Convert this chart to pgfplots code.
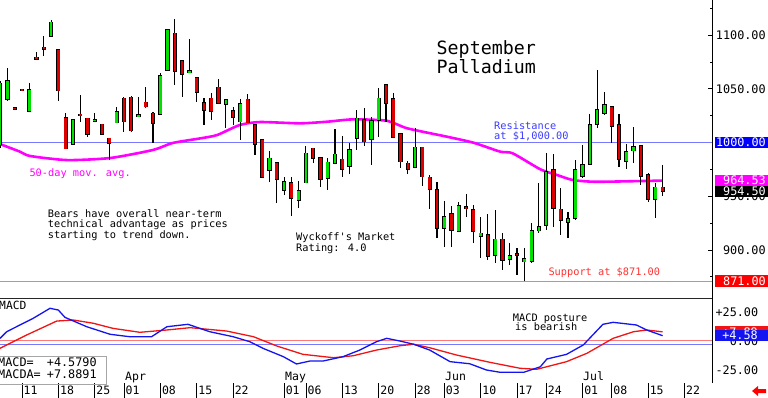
\documentclass[border=0pt]{standalone}
\usepackage{pgfplots}
\pgfplotsset{compat=1.18}
\usepackage{pgfplotstable}
\usepackage{fontspec}
\setmainfont{DejaVu Sans Mono}[Ligatures=TeXOff]
\definecolor{cgreen}{RGB}{0,225,0}
\definecolor{cred}{RGB}{222,0,0}
\definecolor{cmag}{RGB}{255,0,255}
\definecolor{cblue}{RGB}{0,0,255}
\definecolor{lblue}{RGB}{120,120,255}
\definecolor{lred}{RGB}{255,120,120}
\definecolor{tblue}{RGB}{60,60,255}
\definecolor{tred}{RGB}{255,50,50}
\definecolor{mblue}{RGB}{20,20,240}
\definecolor{mred}{RGB}{240,20,20}
\newcommand\fs[1]{\fontsize{#1}{#1}\selectfont}

\pgfplotstableread{
i o h l c
-3 998 1057 995 1055
-2 1040.4 1069.3 1038.6 1057.2
1 1029.5 1055 1029 1048.8
4 1099 1114 1098.5 1111.8
7 998.5 1021 998 1020.9
10 1020.5 1027.7 1020 1021
13 1018.4 1033.3 1018 1028.6
16 1024.5 1042 1024 1025
19 1026.5 1064.4 1026 1062.1
20 1067.4 1105 1067 1104.7
23 1065.5 1096 1065 1066
28 1035.5 1040 1013.2 1039.5
30 1019.3 1040.1 1002.3 1035.8
34 974.3 992 963.4 985.2
36 955.7 967.5 951 963.4
38 946.4 964.4 938.7 955.1
39 962.5 997 962 989.9
42 966.6 985.2 955.7 981.5
43 980.6 1012.5 980 988.9
45 978.3 999.8 970.3 992.9
46 1003.8 1030.2 993 1022.5
48 1002.9 1024 979 1020.2
49 1020.9 1050.4 1005.3 1041.1
54 976.8 1013.2 976 995.5
58 920.1 945.5 902.4 930.9
60 917.5 944.8 917 940.8
63 912.9 930.9 892.1 915.4
65 895.2 937.1 887.5 909.8
67 891.2 906.6 885.9 894.6
69 889 901.4 871 891.5
70 889.6 924.7 888 917.5
71 917.9 962.5 915.4 921.5
72 923.2 989.9 918.5 972.7
75 925.9 935.5 910.7 928.7
76 929.4 983.6 928 974.3
77 968.7 997.6 966.6 979
78 979.9 1026.2 979 1016.2
79 1017.2 1067.4 1013.2 1030.2
80 1027.1 1047.2 1026 1034.8
83 982.7 998.5 975 991.4
84 992.3 1014.1 980.6 996
87 947.1 962.5 929.4 958.2
}\upc

\pgfplotstableread{
i o h l c
-1 1032.2 1032.5 1031.3 1031.6
0 1049.1 1049.4 1048.3 1048.6
2 1079.3 1084.5 1077 1077.4
3 1088.6 1099 1080.5 1086.7
5 1086 1087 1038.6 1048.2
6 1023.2 1027.4 994 994.3
8 1025.7 1044.2 1019.3 1025.3
9 1022.5 1023 1005.3 1007.8
11 1016.9 1017.5 1007 1007.8
12 1003.8 1004.5 983.6 999.2
14 1041.1 1042 1010 1019.3
15 1042 1043 1010 1010.9
17 1037.4 1051.9 1031.8 1033.3
18 1027.1 1028.6 999.2 1017.8
21 1101.6 1114.6 1053.5 1066.5
22 1076.1 1077 1042 1063.4
24 1060.3 1061 1037.9 1046.7
25 1037 1041.1 1016.2 1030.2
26 1041.1 1045.7 1020.9 1029.5
27 1051.3 1058.8 1036 1036.4
29 1029.3 1033.3 1016.2 1023.4
31 1040.2 1044.8 1018 1018.4
32 1016.2 1017 988.3 998.3
33 1002.3 1003 967 967.5
35 981.1 982 943.9 966
37 962.5 968.1 931.5 948
40 994.5 995 981.1 985.2
41 985.8 986.5 958.2 966
44 984.3 1006 967.5 975
47 1020.9 1031.8 996.7 1000.7
50 1053.5 1054.4 1019.3 1036.4
51 1040.4 1045.7 1004 1005.3
52 1007.8 1008.5 975.9 982.1
53 980.6 982.7 970.3 975
55 995.5 996 959.4 968.1
56 967.5 969.7 937.7 956.4
57 955.7 963.4 910.7 920.1
59 933.4 940.8 902.9 918.5
61 940.2 951.7 930.9 938.7
62 937.1 941.8 906.6 917.8
64 913.8 933.4 890.5 894.3
66 909.8 915.4 881.2 890.5
68 896 901.4 876.6 895.5
73 974.3 989.2 921.5 938.7
74 937.7 957.3 914 927.8
81 1033.3 1034 999.8 1015.3
82 1016.2 1026.5 977.4 984.3
85 997 997.5 960.4 969
86 969.7 971.8 944.8 947.1
88 958.2 979 950.1 954.5
}\dnc

\pgfplotstableread{
i v
-3.02 998.5
-0.27 991.4
1.1 987.4
6.2 983.6
12.1 985.5
18 993
20.7 999.5
24.5 1003.8
26.8 1006.9
29.9 1016.2
32.7 1019
38.2 1017.8
41.9 1019.3
45.5 1021.5
50.1 1020.2
52.9 1013.2
58.4 1005.3
62 999.8
65.7 991.4
67.4 989.9
71.2 975
73.5 969.7
75.7 965
79 963.4
88 964.5
}\ma

\pgfplotstableread{
i v
-3.02 2.3
-2.1 8.0
0.18 15.3
1.55 19.6
3.85 28.2
4.99 26.7
5.9 20.4
8.9 12.3
12.1 5.8
14.8 3.7
17.8 3.7
19.9 12.3
22.8 14.4
25.8 8.0
29.0 3.7
31.3 -0.6
33.1 -6.3
35.9 -13.5
37.7 -19.8
39.6 -17.2
41.4 -17.2
44.1 -13.5
46.4 -7.8
48.7 -0.6
50.1 2.3
51.9 0
53.8 -2.8
56.0 -7.8
58.8 -17.8
61.5 -19.6
63.8 -25
65.7 -27
68.9 -27
71.2 -22.2
72.1 -15.5
74.8 -11.5
77.1 -3.4
79.8 14.4
81.2 16.1
84.4 13.8
85.8 9.5
88 4.58
}\macd

\pgfplotstableread{
i v
-3.02 -6.3
0.65 5.2
4.77 17.2
7.05 18.1
9.79 15.3
12.5 10.9
16.2 7.5
19.9 9.5
23.1 11.5
28.1 8.6
31.8 3.7
35.0 -4.3
38.6 -11.5
42.8 -14.4
45.5 -12.7
48.7 -7.8
51.9 -4.1
53.8 -2.8
56.0 -5.8
59.7 -12.1
64.3 -18.4
68.4 -23.5
70.7 -24.4
74.8 -17.8
77.6 -10.6
81.2 2.3
84.0 8.0
85.8 9.5
88 7.89
}\macda

\pgfplotsset{
  eb/.style={draw=none, mark=none, forget plot,
    error bars/.cd, y dir=both, y explicit, error mark=none,
    error bar style={#1}},
}

\begin{document}
\begin{tikzpicture}
\fill[white] (0pt,0pt) rectangle (768pt,-398pt);
\path[use as bounding box] (0pt,0pt) rectangle (768pt,-398pt);

\begin{axis}[at={(0pt,0pt)}, anchor=north west, scale only axis,
  width=712pt, height=298pt,
  xmin=-3.02, xmax=94.78, ymin=855.2, ymax=1132.6,
  axis x line=none, axis y line*=right,
  y axis line style={line width=0.8pt},
  ytick={900,950,1050,1100}, yticklabels={900.00,950.00,1050.00,1100.00},
  minor ytick={875,925,975,1025,1075,1125},
  tick align=inside, major tick length=4pt, minor tick length=2.5pt,
  ytick style={black, line width=0.6pt},
  yticklabel style={anchor=west, inner sep=0pt, xshift=3.5pt, text width=50pt, align=right, font=\fs{11.8}},
]
\addplot[lblue, line width=0.8pt, forget plot] coordinates {(-3.02,1000) (94.78,1000)};
\addplot[lred, line width=0.8pt, forget plot] coordinates {(-3.02,871) (94.78,871)};
\addplot[cmag, line width=2.6pt, smooth, tension=0.4, mark=none] table[x=i,y=v] \ma;
% wicks
\addplot[eb={draw=black, line width=1.1pt}] table[x=i, y expr={(\thisrow{h}+\thisrow{l})/2}, y error expr={(\thisrow{h}-\thisrow{l})/2}] \upc;
\addplot[eb={draw=black, line width=1.1pt}] table[x=i, y expr={(\thisrow{h}+\thisrow{l})/2}, y error expr={(\thisrow{h}-\thisrow{l})/2}] \dnc;
% bodies
\addplot[eb={draw=black, line width=4.2pt}] table[x=i, y expr={(\thisrow{o}+\thisrow{c})/2}, y error expr={max(abs(\thisrow{c}-\thisrow{o})/2,0.6)+0.7}] \upc;
\addplot[eb={draw=cgreen, line width=2.6pt}] table[x=i, y expr={(\thisrow{o}+\thisrow{c})/2}, y error expr={max(abs(\thisrow{c}-\thisrow{o})/2,0.6)}] \upc;
\addplot[eb={draw=black, line width=4.2pt}] table[x=i, y expr={(\thisrow{o}+\thisrow{c})/2}, y error expr={max(abs(\thisrow{c}-\thisrow{o})/2,0.6)+0.7}] \dnc;
\addplot[eb={draw=cred, line width=2.6pt}] table[x=i, y expr={(\thisrow{o}+\thisrow{c})/2}, y error expr={max(abs(\thisrow{c}-\thisrow{o})/2,0.6)}] \dnc;
\coordinate (b1000) at (axis cs:94.78,1000);
\coordinate (b964) at (axis cs:94.78,964.53);
\coordinate (b954) at (axis cs:94.78,954.5);
\coordinate (b871) at (axis cs:94.78,871);
\end{axis}

\begin{axis}[at={(0pt,-298pt)}, anchor=north west, scale only axis,
  width=712pt, height=85pt,
  xmin=-3.02, xmax=94.78, ymin=-36.2, ymax=37.07,
  axis x line*=bottom, axis y line*=right,
  x axis line style={draw=none}, y axis line style={line width=0.8pt},
  xtick={0,5,10,14,19,24,29,36,39,44,49,54,58,63,68,72,77,81,86,91},
  xticklabels={11,18,25,01,08,15,22,01,06,13,20,28,03,10,17,24,01,08,15,22},
  tick align=inside, major tick length=15pt,
  xtick style={black, line width=0.7pt, yshift=-15pt},
  ytick={-25,0,25}, yticklabels={-25.00,0.00,+25.00},
  ytick style={draw=none},
  xticklabel style={anchor=west, inner sep=1pt, xshift=0.5pt, yshift=-7.5pt, font=\fs{11.5}},
  yticklabel style={anchor=west, inner sep=0pt, xshift=2.5pt, text width=43.5pt, align=right, font=\fs{11.8}},
]
\addplot[lred, line width=0.6pt, forget plot] coordinates {(-3.02,0.9) (94.78,0.9)};
\addplot[lblue, line width=0.6pt, forget plot] coordinates {(-3.02,-2.6) (94.78,-2.6)};
\addplot[mred, line width=1.3pt, mark=none] table[x=i,y=v] \macda;
\addplot[mblue, line width=1.3pt, mark=none] table[x=i,y=v] \macd;
\coordinate (m789) at (axis cs:94.78,7.89);
\coordinate (m458) at (axis cs:94.78,4.58);
\end{axis}

% right-hand value boxes
\newcommand\rbox[4]{%
  \fill[#2] ([xshift=2.5pt,yshift=-5.75pt]#1) rectangle ([xshift=56pt,yshift=5.75pt]#1);
  \node[anchor=east, inner sep=0pt, text=white, font=\fs{11.8}] at ([xshift=#4]#1) {#3};}
\rbox{b1000}{cblue}{1000.00}{54pt}
\rbox{b964}{cmag}{964.53}{54pt}
\rbox{b954}{black}{954.50}{54pt}
\rbox{b871}{red}{871.00}{54pt}
\rbox{m789}{mred}{+7.89}{46pt}
\rbox{m458}{mblue}{+4.58}{46pt}

\begin{scope}[x=1pt, y=-1pt]
\draw[black!85, line width=0.9pt] (0,298) -- (712,298);
\node[anchor=base west, inner sep=0pt, font=\fs{18.3}] at (436.5,55) {September};
\node[anchor=base west, inner sep=0pt, font=\fs{18.3}] at (436.5,73.5) {Palladium};
\node[anchor=base west, inner sep=0pt, font=\fs{10.3}, text=tblue] at (494,129.3) {Resistance};
\node[anchor=base west, inner sep=0pt, font=\fs{10.3}, text=tblue] at (494,140) {at \$1,000.00};
\node[anchor=base west, inner sep=0pt, font=\fs{10.3}, text=cmag] at (29.3,176.7) {50-day mov. avg.};
\node[anchor=base west, inner sep=0pt, font=\fs{10.3}] at (47.7,217.3) {Bears have overall near-term};
\node[anchor=base west, inner sep=0pt, font=\fs{10.3}] at (47.7,227.8) {technical advantage as prices};
\node[anchor=base west, inner sep=0pt, font=\fs{10.3}] at (47.7,238.3) {starting to trend down.};
\node[anchor=base west, inner sep=0pt, font=\fs{10.3}] at (296,240.7) {Wyckoff's Market};
\node[anchor=base west, inner sep=0pt, font=\fs{10.3}] at (296,251.7) {Rating: 4.0};
\node[anchor=base west, inner sep=0pt, font=\fs{10.3}, text=tred] at (548.3,275) {Support at \$871.00};
\node[anchor=base west, inner sep=0pt, font=\fs{10.3}] at (512.7,321) {MACD posture};
\node[anchor=base west, inner sep=0pt, font=\fs{10.3}] at (515,330.7) {is bearish};
\node[anchor=base west, inner sep=0pt, font=\fs{11.3}] at (-1,309) {MACD};
\draw[gray!70, line width=0.8pt] (-2,356.7) rectangle (106,384);
\node[anchor=base west, inner sep=0pt, font=\fs{11.8}] at (-2,366.7) {MACD=};
\node[anchor=base west, inner sep=0pt, font=\fs{11.8}] at (46.7,366.7) {+4.5790};
\node[anchor=base west, inner sep=0pt, font=\fs{11.8}] at (-2,378.3) {MACDA=};
\node[anchor=base west, inner sep=0pt, font=\fs{11.8}] at (46.7,378.3) {+7.8891};
\node[anchor=base west, inner sep=0pt, font=\fs{11.5}] at (125,380) {Apr};
\node[anchor=base west, inner sep=0pt, font=\fs{11.5}] at (285,380) {May};
\node[anchor=base west, inner sep=0pt, font=\fs{11.5}] at (445,380) {Jun};
\node[anchor=base west, inner sep=0pt, font=\fs{11.5}] at (583,380) {Jul};
\fill[red] (752,391) -- (758,386) -- (758,389) -- (766,389) -- (766,393) -- (758,393) -- (758,396) -- cycle;
\end{scope}
\end{tikzpicture}
\end{document}
